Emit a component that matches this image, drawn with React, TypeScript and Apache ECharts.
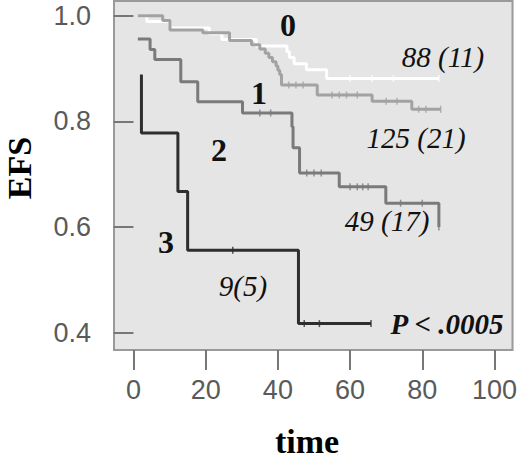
import React, { useEffect, useRef } from "react";
import * as echarts from "echarts";

// Kaplan-Meier step points [time, EFS]
const group0Steps: number[][] = [
  [1.2, 1.0], [3.7, 0.989], [10.1, 0.977], [21.0, 0.966], [24.5, 0.955],
  [34.0, 0.943], [42.5, 0.932], [43.2, 0.921], [44.5, 0.909], [47.9, 0.898],
  [53.5, 0.881], [84.6, 0.881],
];
const group1Steps: number[][] = [
  [1.2, 1.0], [8.1, 0.991], [10.1, 0.973], [19.2, 0.968], [26.6, 0.953],
  [32.7, 0.945], [35.0, 0.937], [36.5, 0.929], [37.5, 0.921], [38.5, 0.913],
  [39.5, 0.905], [40.0, 0.897], [40.5, 0.889], [41.0, 0.869], [50.9, 0.85],
  [66.1, 0.838], [77.1, 0.823], [85.1, 0.823],
];
const group2Steps: number[][] = [
  [1.2, 0.956], [4.6, 0.936], [5.9, 0.917], [13.1, 0.875], [17.8, 0.837],
  [30.2, 0.816], [43.9, 0.79], [44.2, 0.75], [46.0, 0.702], [57.0, 0.676],
  [69.9, 0.645], [84.6, 0.6],
];
const group3Steps: number[][] = [
  [2.2, 0.889], [2.2, 0.778], [12.3, 0.667], [15.0, 0.556], [45.7, 0.417],
  [65.8, 0.417],
];

// censored observations [time, EFS]
const group0Censored: number[][] = [
  [60, 0.881], [66, 0.881], [72, 0.881], [84.6, 0.881],
];
const group1Censored: number[][] = [
  [43, 0.869], [45, 0.869], [47, 0.869], [55, 0.85], [57, 0.85], [59, 0.85],
  [62, 0.85], [70, 0.838], [73, 0.838], [79, 0.823], [81, 0.823], [85.1, 0.823],
];
const group2Censored: number[][] = [
  [35, 0.816], [38, 0.816], [48, 0.702], [50, 0.702], [52, 0.702],
  [60, 0.676], [62, 0.676], [63.5, 0.676], [65, 0.676], [74, 0.645],
  [80, 0.645], [84.6, 0.6],
];
const group3Censored: number[][] = [
  [27.5, 0.556], [47.3, 0.417], [51.5, 0.417], [65.8, 0.417],
];

const xTicks = [0, 20, 40, 60, 80, 100];
const yTicks = [0.4, 0.6, 0.8, 1.0];

const groupColors = ["#ffffff", "#a2a2a2", "#7a7a7a", "#2e2e2e"];
const groupLabels = ["0", "1", "2", "3"];
const countLabels = ["88 (11)", "125 (21)", "49 (17)", "9(5)"];

export default function App() {
  const ref = useRef<HTMLDivElement>(null);
  useEffect(() => {
    if (!ref.current) return;
    const chart = echarts.init(ref.current, undefined, { renderer: "svg" });
    const steps = [group0Steps, group1Steps, group2Steps, group3Steps];
    const cens = [group0Censored, group1Censored, group2Censored, group3Censored];
    const series: any[] = [];
    const order = [2, 1, 0, 3];
    order.forEach((g) => {
      series.push({
        type: "line",
        step: "end",
        data: steps[g],
        showSymbol: false,
        symbol: "none",
        lineStyle: { color: groupColors[g], width: 3 },
        z: 2 + g,
        silent: true,
      });
      series.push({
        type: "scatter",
        data: cens[g],
        symbol: "rect",
        symbolSize: [1.5, 7],
        itemStyle: { color: groupColors[g] },
        z: 2 + g,
        silent: true,
      });
    });
    const serif = "'Liberation Serif', 'Times New Roman', serif";
    const txt = (x: number, y: number, text: string, size: number, bold: boolean, italic: boolean) => ({
      type: "text",
      x,
      y,
      style: {
        text,
        fontFamily: serif,
        fontSize: size,
        fontWeight: bold ? "bold" : "normal",
        fontStyle: italic ? "italic" : "normal",
        fill: "#111",
        align: "center",
        verticalAlign: "middle",
      },
      z: 100,
    });
    chart.setOption({
      animation: false,
      grid: {
        left: 114,
        top: 1,
        width: 400,
        height: 349,
        show: true,
        backgroundColor: "#e5e5e5",
        borderColor: "#9a9a9a",
        borderWidth: 2,
      },
      xAxis: {
        type: "value",
        min: -5.4,
        max: 105,
        axisLine: { show: false },
        splitLine: { show: false },
        axisTick: {
          show: true,
          customValues: xTicks,
          length: 20,
          inside: false,
          lineStyle: { color: "#777", width: 2 },
        },
        axisLabel: {
          customValues: xTicks,
          margin: 26,
          fontSize: 27,
          color: "#5a5a5a",
          fontFamily: "'Liberation Sans', Arial, sans-serif",
          showMinLabel: true,
          showMaxLabel: true,
        },
      },
      yAxis: {
        type: "value",
        min: 0.367,
        max: 1.028,
        axisLine: { show: false },
        splitLine: { show: false },
        axisTick: {
          show: true,
          customValues: yTicks,
          length: 20,
          inside: false,
          lineStyle: { color: "#777", width: 2 },
        },
        axisLabel: {
          customValues: yTicks,
          margin: 23,
          fontSize: 27,
          color: "#5a5a5a",
          fontFamily: "'Liberation Sans', Arial, sans-serif",
          formatter: (v: number) => v.toFixed(1),
        },
      },
      series,
      graphic: [
        {
          type: "text",
          x: 19,
          y: 168,
          rotation: Math.PI / 2,
          style: {
            text: "EFS",
            fontFamily: serif,
            fontSize: 34,
            fontWeight: "bold",
            fill: "#000",
            align: "center",
            verticalAlign: "middle",
          },
        },
        {
          type: "text",
          x: 307,
          y: 441,
          style: {
            text: "time",
            fontFamily: serif,
            fontSize: 34,
            fontWeight: "bold",
            fill: "#000",
            align: "center",
            verticalAlign: "middle",
          },
        },
        txt(288, 25, groupLabels[0], 32, true, false),
        txt(259, 93, groupLabels[1], 32, true, false),
        txt(219, 150, groupLabels[2], 32, true, false),
        txt(166, 242, groupLabels[3], 32, true, false),
        txt(443, 57, countLabels[0], 29, false, true),
        txt(416, 138, countLabels[1], 29, false, true),
        txt(387, 221, countLabels[2], 29, false, true),
        txt(243, 286, countLabels[3], 29, false, true),
        txt(447, 324, "P < .0005", 29, true, true),
      ],
    });
    return () => chart.dispose();
  }, []);
  return (
    <div
      ref={ref}
      style={{ position: "fixed", left: 0, top: 0, width: 520, height: 463, background: "#fff" }}
    />
  );
}
